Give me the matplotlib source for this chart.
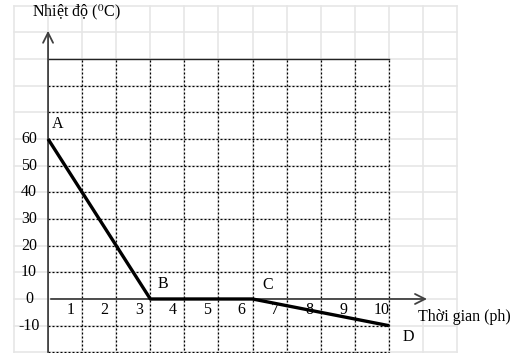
import numpy as np
import matplotlib.pyplot as plt

plt.rcParams['font.family'] = ['Liberation Serif', 'DejaVu Serif']
plt.rcParams['mathtext.fontset'] = 'stix'

# data
time_pts = [0, 3, 6, 10]
temp_pts = [60, 0, 0, -10]
point_names = ['A', 'B', 'C', 'D']
x_ticks = [1, 2, 3, 4, 5, 6, 7, 8, 9, 10]
y_ticks = [60, 50, 40, 30, 20, 10, 0, -10]

fig = plt.figure(figsize=(5.15, 3.53), dpi=100)
ax = fig.add_axes([0, 0, 1, 1])
ax.set_xlim(-1.41, 13.70)
ax.set_ylim(-20.25, 112.1)
ax.axis('off')

# light background cells
for xv in range(-1, 13):
    ax.plot([xv, xv], [-21, 110], color='#e6e6e6', lw=1.2, zorder=0)
for yv in range(-20, 111, 10):
    ax.plot([-1, 12], [yv, yv], color='#e6e6e6', lw=1.2, zorder=0)

# dotted grid
for xv in range(1, 11):
    ax.plot([xv, xv], [-21, 90], color='black', lw=0.9, ls=(0, (1.6, 1.6)), zorder=1)
for yv in range(-20, 90, 10):
    if yv == 0:
        continue
    ax.plot([0, 10], [yv, yv], color='black', lw=0.9, ls=(0, (1.6, 1.6)), zorder=1)
ax.plot([0, 10], [90, 90], color='#222222', lw=1.0, zorder=1)

# axes with arrows
ax.annotate('', xy=(0, 101.6), xytext=(0, -21),
            arrowprops=dict(arrowstyle='->', lw=1.3, color='#404040', mutation_scale=18))
ax.annotate('', xy=(11.2, 0), xytext=(0, 0),
            arrowprops=dict(arrowstyle='->', lw=1.3, color='#404040', mutation_scale=18))

# the curve
ax.plot(time_pts, temp_pts, color='black', lw=2.4, solid_capstyle='butt', zorder=3)

# tick labels
for t in x_ticks:
    off = 0.22 if len(str(t)) > 1 else 0.34
    ax.text(t - off, -4.2, str(t), ha='center', va='center', fontsize=11.5)
for v in y_ticks:
    ax.text(-0.56, v, str(v), ha='center', va='center', fontsize=11.5)

# point names
name_pos = [(0.12, 65.6), (3.2, 5.6), (6.3, 5.2), (10.41, -14.2)]
for nm, (px, py) in zip(point_names, name_pos):
    ax.text(px, py, nm, ha='left', va='center', fontsize=11.5)

ax.text(-0.47, 107.6, 'Nhiệt độ ($^0$C)', ha='left', va='center', fontsize=11.5)
ax.text(10.85, -6.8, 'Thời gian (ph)', ha='left', va='center', fontsize=11.5)

fig.savefig('out.png', dpi=100)
